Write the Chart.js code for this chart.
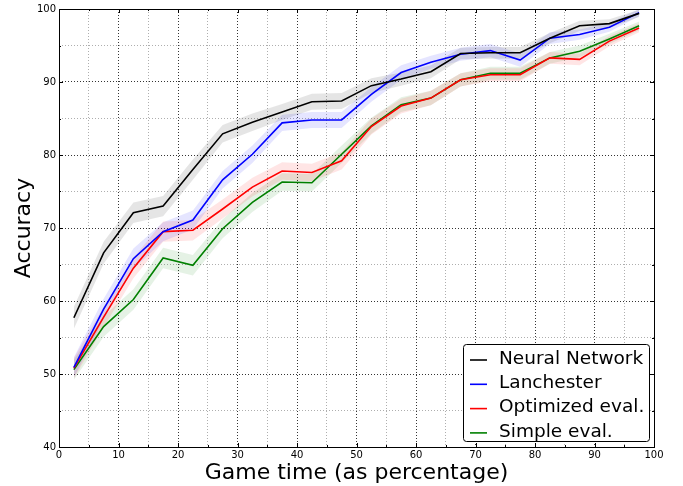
<!DOCTYPE html>
<html>
<head>
<meta charset="utf-8">
<script src="https://cdn.jsdelivr.net/npm/chart.js@4/dist/chart.umd.min.js"></script>
<style>
  html, body { margin: 0; padding: 0; background: #fff; }
  #wrap { width: 683px; height: 486px; }
</style>
</head>
<body>
<div id="wrap"><canvas id="c" width="683" height="486"></canvas></div>
<script>
// Game time buckets (percent of game elapsed)
const gameTime = [2.5, 7.5, 12.5, 17.5, 22.5, 27.5, 32.5, 37.5, 42.5, 47.5,
                  52.5, 57.5, 62.5, 67.5, 72.5, 77.5, 82.5, 87.5, 92.5, 97.5];

// Mean accuracy per predictor
const neuralNetwork = [57.7, 66.6, 72.1, 73.0, 78.0, 82.9, 84.5, 85.9, 87.3, 87.4,
                       89.5, 90.4, 91.4, 93.9, 94.0, 94.0, 96.0, 97.7, 98.0, 99.4];
const lanchester    = [50.9, 58.9, 65.8, 69.5, 71.1, 76.6, 80.1, 84.4, 84.8, 84.8,
                       88.3, 91.3, 92.7, 93.8, 94.3, 93.0, 96.0, 96.5, 97.5, 99.5];
const optimizedEval = [50.8, 57.8, 64.5, 69.5, 69.7, 72.6, 75.6, 77.8, 77.6, 79.2,
                       83.9, 86.7, 87.8, 90.3, 91.0, 91.0, 93.3, 93.1, 95.6, 97.4];
const simpleEval    = [50.6, 56.5, 60.2, 65.9, 64.9, 69.9, 73.5, 76.3, 76.2, 80.1,
                       84.0, 86.9, 87.8, 90.3, 91.2, 91.2, 93.3, 94.2, 95.9, 97.7];

// Half-width of the shaded confidence band around each mean
const neuralSpread    = [1.5, 1.5, 1.4, 1.4, 1.4, 1.2, 1.2, 1.1, 1.1, 1.1,
                         1.0, 0.9, 0.9, 0.8, 0.8, 0.8, 0.7, 0.7, 0.6, 0.5];
const lanchesterSpread = [1.4, 1.4, 1.4, 1.3, 1.3, 1.2, 1.2, 1.1, 1.1, 1.1,
                          1.0, 1.0, 0.9, 0.9, 0.9, 0.9, 0.8, 0.7, 0.6, 0.5];
const optimizedSpread = [1.4, 1.4, 1.4, 1.4, 1.4, 1.3, 1.3, 1.2, 1.2, 1.2,
                         1.1, 1.0, 1.0, 0.9, 0.9, 0.9, 0.8, 0.8, 0.7, 0.6];
const simpleSpread    = [1.4, 1.4, 1.4, 1.4, 1.4, 1.3, 1.3, 1.2, 1.2, 1.2,
                         1.1, 1.0, 1.0, 0.9, 0.9, 0.9, 0.8, 0.8, 0.7, 0.6];

// Axis settings
const xMin = 0, xMax = 100, yMin = 40, yMax = 100;
const majorStep = 10, minorStep = 5;

const series = [
  { label: 'Neural Network',  data: neuralNetwork, spread: neuralSpread,     line: '#000000', band: 'rgba(0,0,0,0.10)' },
  { label: 'Lanchester',      data: lanchester,    spread: lanchesterSpread, line: '#0000ff', band: 'rgba(0,0,255,0.10)' },
  { label: 'Optimized eval.', data: optimizedEval, spread: optimizedSpread,  line: '#ff0000', band: 'rgba(255,0,0,0.10)' },
  { label: 'Simple eval.',    data: simpleEval,    spread: simpleSpread,     line: '#008000', band: 'rgba(0,128,0,0.10)' }
];

const pts = (arr) => gameTime.map((x, i) => ({ x, y: arr[i] }));

const datasets = [];
// Shaded bands: upper edge fills down to the lower edge dataset right after it
series.forEach((s) => {
  datasets.push({
    label: s.label + ' upper', band: true,
    data: pts(s.data.map((v, i) => v + s.spread[i])),
    borderWidth: 0, pointRadius: 0, backgroundColor: s.band,
    fill: '+1', order: 2
  });
  datasets.push({
    label: s.label + ' lower', band: true,
    data: pts(s.data.map((v, i) => v - s.spread[i])),
    borderWidth: 0, pointRadius: 0, backgroundColor: s.band,
    fill: false, order: 2
  });
});
// Mean lines on top
series.forEach((s) => {
  datasets.push({
    label: s.label, data: pts(s.data),
    borderColor: s.line, borderWidth: 1.6, pointRadius: 0,
    fill: false, tension: 0, order: 1
  });
});

const FONT = "'DejaVu Sans', sans-serif";

// Frame, inward tick marks and boxed legend
const framePlugin = {
  id: 'frame',
  afterDraw(chart) {
    const { ctx, chartArea: a, scales } = chart;
    ctx.save();
    ctx.strokeStyle = '#000';
    ctx.lineWidth = 1;
    ctx.strokeRect(Math.round(a.left) + 0.5, Math.round(a.top) + 0.5,
                   Math.round(a.right - a.left), Math.round(a.bottom - a.top));
    ctx.beginPath();
    for (let v = xMin; v <= xMax; v += minorStep) {
      const px = Math.round(scales.x.getPixelForValue(v)) + 0.5;
      const len = v % majorStep === 0 ? 4 : 2;
      ctx.moveTo(px, a.bottom); ctx.lineTo(px, a.bottom - len);
      ctx.moveTo(px, a.top); ctx.lineTo(px, a.top + len);
    }
    for (let v = yMin; v <= yMax; v += minorStep) {
      const py = Math.round(scales.y.getPixelForValue(v)) + 0.5;
      const len = v % majorStep === 0 ? 4 : 2;
      ctx.moveTo(a.left, py); ctx.lineTo(a.left + len, py);
      ctx.moveTo(a.right, py); ctx.lineTo(a.right - len, py);
    }
    ctx.stroke();

    // Legend box in the lower right of the plot
    const bx = 463, by = 344, bw = 186, bh = 97, rowH = 24.3;
    ctx.fillStyle = '#fff';
    ctx.beginPath();
    ctx.roundRect(bx + 0.5, by + 0.5, bw, bh, 3);
    ctx.fill();
    ctx.strokeStyle = '#000';
    ctx.stroke();
    ctx.font = '18.5px ' + FONT;
    ctx.textBaseline = 'middle';
    series.forEach((s, i) => {
      const cy = by + 15 + i * rowH;
      ctx.strokeStyle = s.line;
      ctx.lineWidth = 1.6;
      ctx.beginPath();
      ctx.moveTo(470, cy + 1); ctx.lineTo(487, cy + 1);
      ctx.stroke();
      ctx.fillStyle = '#000';
      ctx.fillText(s.label, 499, cy);
    });
    ctx.restore();
  }
};

const gridColor = (ctx) =>
  (ctx.tick && ctx.tick.value % majorStep === 0) ? '#000' : '#999';

new Chart(document.getElementById('c'), {
  type: 'line',
  data: { datasets },
  plugins: [framePlugin],
  options: {
    responsive: false,
    animation: false,
    layout: { padding: { left: 11, right: 29, top: 8, bottom: 0 } },
    plugins: { legend: { display: false }, tooltip: { enabled: false } },
    elements: { line: { borderCapStyle: 'butt', borderJoinStyle: 'miter' } },
    scales: {
      x: {
        type: 'linear', min: xMin, max: xMax,
        afterFit(s) { s.height = 39; },
        ticks: {
          stepSize: minorStep, autoSkip: false, maxRotation: 0, padding: 2,
          color: '#000', font: { family: FONT, size: 10 },
          callback: (v) => v % majorStep === 0 ? String(v) : ''
        },
        grid: { color: gridColor, lineWidth: 0.8, drawTicks: false },
        border: { display: false, dash: [1, 2] },
        title: {
          display: true, text: 'Game time (as percentage)', color: '#000',
          font: { family: FONT, size: 22 }, padding: { top: 0, bottom: 0 }
        }
      },
      y: {
        type: 'linear', min: yMin, max: yMax,
        afterFit(s) { s.width = 48; },
        ticks: {
          stepSize: minorStep, autoSkip: false, padding: 3,
          color: '#000', font: { family: FONT, size: 10 },
          callback: (v) => v % majorStep === 0 ? String(v) : ''
        },
        grid: { color: gridColor, lineWidth: 0.8, drawTicks: false },
        border: { display: false, dash: [1, 2] },
        title: {
          display: true, text: 'Accuracy', color: '#000',
          font: { family: FONT, size: 22 }, padding: { top: 0, bottom: 0 }
        }
      }
    }
  }
});
</script>
</body>
</html>
